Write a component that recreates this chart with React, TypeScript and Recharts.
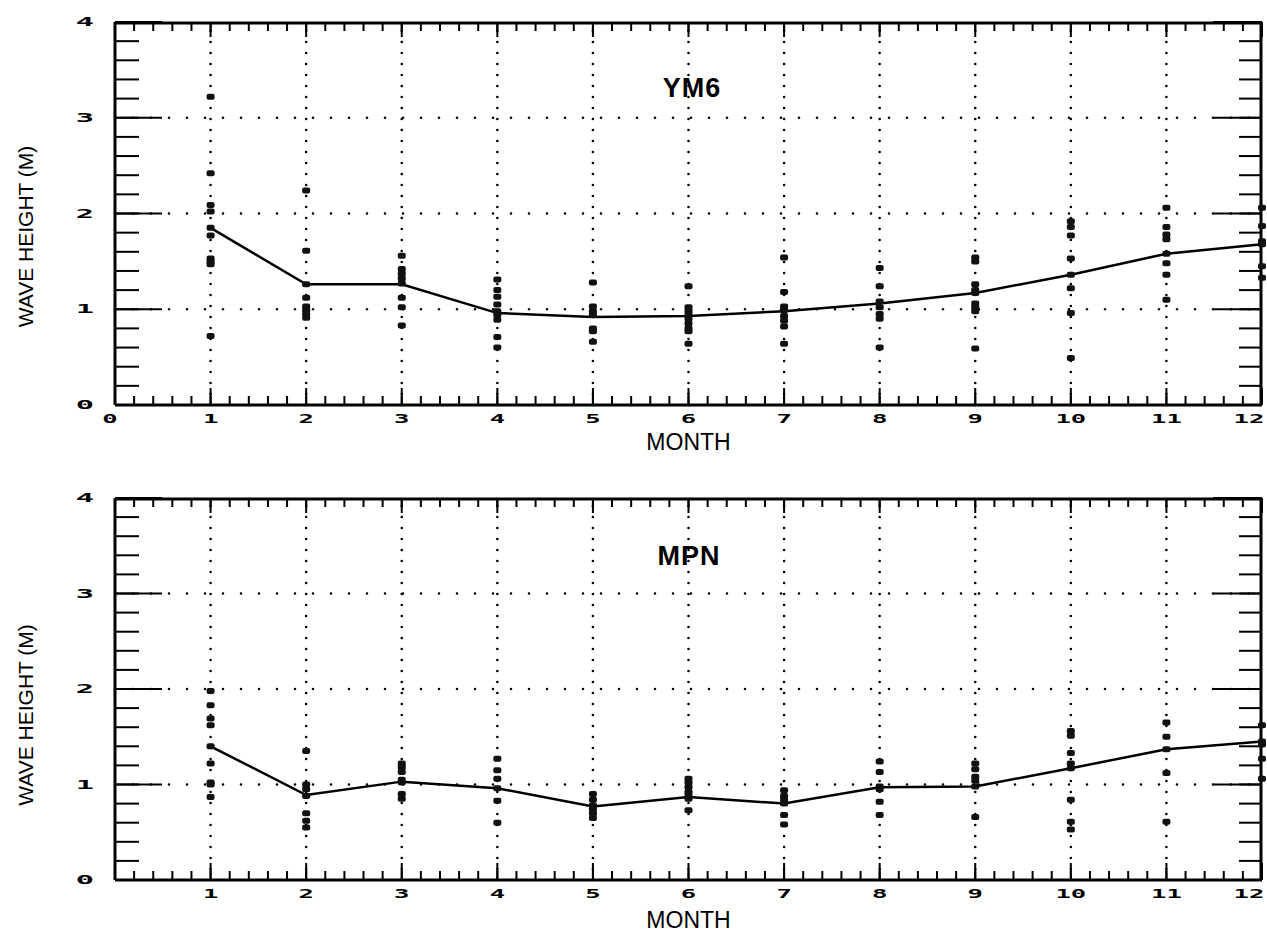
import React from 'react';
import {
  ComposedChart,
  Line,
  Scatter,
  XAxis,
  YAxis,
  ReferenceLine,
  Label,
  Customized,
} from 'recharts';

// ---------- data ----------
const months = [1, 2, 3, 4, 5, 6, 7, 8, 9, 10, 11, 12];

const ym6Mean = [1.85, 1.26, 1.26, 0.96, 0.92, 0.93, 0.98, 1.06, 1.17, 1.36, 1.58, 1.68];
const mpnMean = [1.40, 0.89, 1.03, 0.96, 0.77, 0.87, 0.80, 0.97, 0.98, 1.17, 1.37, 1.45];

const ym6Obs = [
  [3.22, 2.42, 2.09, 2.02, 1.85, 1.77, 1.53, 1.5, 1.47, 0.72],
  [2.24, 1.61, 1.26, 1.12, 1.03, 0.99, 0.95, 0.91],
  [1.56, 1.42, 1.37, 1.32, 1.27, 1.12, 1.02, 0.83],
  [1.31, 1.2, 1.13, 1.05, 0.98, 0.94, 0.89, 0.71, 0.6],
  [1.28, 1.03, 0.98, 0.94, 0.8, 0.77, 0.66],
  [1.24, 1.02, 0.98, 0.94, 0.9, 0.85, 0.8, 0.77, 0.64],
  [1.54, 1.18, 1.03, 0.99, 0.93, 0.88, 0.82, 0.64],
  [1.43, 1.24, 1.08, 1.02, 0.95, 0.9, 0.6],
  [1.54, 1.5, 1.26, 1.2, 1.17, 1.06, 1.02, 0.98, 0.59],
  [1.92, 1.86, 1.77, 1.53, 1.36, 1.22, 0.96, 0.49],
  [2.06, 1.86, 1.78, 1.73, 1.58, 1.48, 1.36, 1.1],
  [2.06, 1.87, 1.71, 1.68, 1.45, 1.33],
];

const mpnObs = [
  [1.98, 1.83, 1.69, 1.62, 1.4, 1.22, 1.02, 1.0, 0.87],
  [1.35, 1.0, 0.95, 0.88, 0.7, 0.62, 0.55],
  [1.22, 1.18, 1.13, 1.05, 1.02, 0.9, 0.85],
  [1.27, 1.15, 1.06, 0.96, 0.83, 0.6],
  [0.9, 0.84, 0.78, 0.74, 0.7, 0.65],
  [1.06, 1.02, 0.97, 0.92, 0.88, 0.85, 0.73],
  [0.94, 0.88, 0.84, 0.8, 0.68, 0.58],
  [1.24, 1.13, 0.98, 0.95, 0.82, 0.68],
  [1.22, 1.16, 1.08, 1.04, 0.98, 0.66],
  [1.56, 1.51, 1.33, 1.22, 1.17, 0.84, 0.61, 0.53],
  [1.65, 1.5, 1.37, 1.12, 0.61],
  [1.62, 1.45, 1.42, 1.27, 1.06],
];

const topXTicks = [0, 1, 2, 3, 4, 5, 6, 7, 8, 9, 10, 11, 12];
const bottomXTicks = [1, 2, 3, 4, 5, 6, 7, 8, 9, 10, 11, 12];
const majorXTicks = [0, 1, 2, 3, 4, 5, 6, 7, 8, 9, 10, 11, 12];
const yTicks = [0, 1, 2, 3, 4];
const gridX = [1, 2, 3, 4, 5, 6, 7, 8, 9, 10, 11];
const gridY = [1, 2, 3];

// axis decoration tick positions (every 0.2)
const minorX = Array.from({ length: 61 }, (_, i) => Math.round(i * 2) / 10);
const minorY = Array.from({ length: 21 }, (_, i) => Math.round(i * 2) / 10);

const FONT = '"Liberation Sans", Arial, Helvetica, sans-serif';
const DIGIT_FONT = '"DejaVu Sans Mono", monospace';

const meanRows = (mean: number[]) => months.map((m, i) => ({ month: m, value: mean[i] }));
const obsRows = (obs: number[][]) =>
  months.flatMap((m, i) => obs[i].map((v) => ({ month: m, value: v })));

const XTick = (props: any) => {
  const { x, y, payload } = props;
  const shift = payload.value === 12 ? -13 : payload.value === 0 ? -5 : 0;
  return (
    <text
      x={0}
      y={0}
      transform={`translate(${x + shift},${y + 14}) scale(1.6,0.72)`}
      textAnchor="middle"
      dominantBaseline="central"
      fontFamily={DIGIT_FONT}
      fontWeight="bold"
      fontSize={16}
      fill="#000"
    >
      {payload.value}
    </text>
  );
};

const YTick = (props: any) => {
  const { x, y, payload } = props;
  return (
    <text
      x={0}
      y={0}
      transform={`translate(${x - 30},${y}) scale(1.9,0.72)`}
      textAnchor="middle"
      dominantBaseline="central"
      fontFamily={DIGIT_FONT}
      fontWeight="bold"
      fontSize={16}
      fill="#000"
    >
      {payload.value}
    </text>
  );
};

const EmptyTick = () => <g />;

const Marker = (p: any) => (
  <rect x={p.cx - 4} y={p.cy - 3} width={8} height={6} rx={2} fill="#111" />
);

const tickLineStyle = { stroke: '#000', strokeWidth: 2 };
const borderStyle = { stroke: '#000', strokeWidth: 3 };

type PanelProps = {
  title: string;
  titleX: number;
  titleY: number;
  mean: number[];
  obs: number[][];
  xTicks: number[];
  height: number;
  marginTop: number;
  xAxisHeight: number;
  monthOffset: number;
  yLabelShift: number;
};

const Panel = (p: PanelProps) => {
  const plotTop = p.marginTop;
  const plotBottom = p.height - p.xAxisHeight;
  const yLabelY = (plotTop + plotBottom) / 2 + p.yLabelShift;
  const xDeco = (id: string, orientation: 'top' | 'bottom', ticks: number[], size: number, line: any) => (
    <XAxis
      xAxisId={id}
      orientation={orientation}
      dataKey="month"
      type="number"
      domain={[0, 12]}
      allowDataOverflow
      ticks={ticks}
      interval={0}
      mirror
      height={1}
      tick={<EmptyTick />}
      tickLine={tickLineStyle}
      tickSize={size}
      axisLine={line}
    />
  );
  const yDeco = (id: string, orientation: 'left' | 'right', ticks: number[], size: number, line: any) => (
    <YAxis
      yAxisId={id}
      orientation={orientation}
      dataKey="value"
      type="number"
      domain={[0, 4]}
      allowDataOverflow
      ticks={ticks}
      interval={0}
      mirror
      width={1}
      tick={<EmptyTick />}
      tickLine={tickLineStyle}
      tickSize={size}
      axisLine={line}
    />
  );
  return (
    <ComposedChart
      width={1267}
      height={p.height}
      data={meanRows(p.mean)}
      margin={{ top: p.marginTop, right: 5, left: 0, bottom: 0 }}
    >
      {/* main axes with labels */}
      <XAxis
        xAxisId="m"
        dataKey="month"
        type="number"
        domain={[0, 12]}
        ticks={p.xTicks}
        interval={0}
        tick={<XTick />}
        tickLine={false}
        tickSize={0}
        tickMargin={0}
        axisLine={borderStyle}
        height={p.xAxisHeight}
      >
        <Label
          value="MONTH"
          position="insideBottom"
          offset={p.monthOffset}
          fill="#000"
          fontSize={23}
          fontFamily={FONT}
        />
      </XAxis>
      <YAxis
        yAxisId="m"
        dataKey="value"
        type="number"
        domain={[0, 4]}
        ticks={yTicks}
        interval={0}
        tick={<YTick />}
        tickLine={false}
        tickSize={0}
        tickMargin={0}
        axisLine={borderStyle}
        width={115}
      />

      {/* inward tick decorations and frame */}
      {xDeco('bmin', 'bottom', minorX, 8, false)}
      {xDeco('bmaj', 'bottom', majorXTicks, 17, false)}
      {xDeco('tmin', 'top', minorX, 8, borderStyle)}
      {xDeco('tmaj', 'top', majorXTicks, 15, false)}
      {yDeco('lmin', 'left', minorY, 23, false)}
      {yDeco('lmaj', 'left', yTicks, 47, false)}
      {yDeco('rmin', 'right', minorY, 22, borderStyle)}
      {yDeco('rmaj', 'right', yTicks, 49, false)}

      {/* dotted grid */}
      {gridX.map((g) => (
        <ReferenceLine
          key={`gx${g}`}
          x={g}
          xAxisId="m"
          yAxisId="m"
          stroke="#000"
          strokeWidth={2.6}
          strokeLinecap="round"
          strokeDasharray="0 11"
        />
      ))}
      {gridY.map((g) => (
        <ReferenceLine
          key={`gy${g}`}
          y={g}
          xAxisId="m"
          yAxisId="m"
          stroke="#000"
          strokeWidth={2.6}
          strokeLinecap="round"
          strokeDasharray="0 18"
        />
      ))}

      <Scatter
        xAxisId="m"
        yAxisId="m"
        data={obsRows(p.obs)}
        shape={<Marker />}
        isAnimationActive={false}
      />
      <Line
        xAxisId="m"
        yAxisId="m"
        type="linear"
        dataKey="value"
        stroke="#000"
        strokeWidth={2.5}
        dot={false}
        activeDot={false}
        isAnimationActive={false}
      />

      <Customized
        component={() => (
          <g>
            <text
              x={p.titleX}
              y={p.titleY}
              textAnchor="middle"
              fontFamily={FONT}
              fontWeight="bold"
              fontSize={27}
              letterSpacing={1}
              fill="#000"
            >
              {p.title}
            </text>
            <text
              x={25}
              y={yLabelY}
              transform={`rotate(-90 25 ${yLabelY})`}
              textAnchor="middle"
              dominantBaseline="central"
              fontFamily={FONT}
              fontSize={21}
              fill="#000"
            >
              WAVE HEIGHT (M)
            </text>
          </g>
        )}
      />
    </ComposedChart>
  );
};

export default function App() {
  return (
    <div
      style={{
        position: 'absolute',
        left: 0,
        top: 0,
        width: 1267,
        height: 935,
        background: '#fff',
        overflow: 'hidden',
      }}
    >
      <div style={{ position: 'absolute', left: 0, top: 0 }}>
        <Panel
          title="YM6"
          titleX={692}
          titleY={97}
          mean={ym6Mean}
          obs={ym6Obs}
          xTicks={topXTicks}
          height={470}
          marginTop={22}
          xAxisHeight={65}
          monthOffset={20}
          yLabelShift={23}
        />
      </div>
      <div style={{ position: 'absolute', left: 0, top: 470 }}>
        <Panel
          title="MPN"
          titleX={689}
          titleY={95}
          mean={mpnMean}
          obs={mpnObs}
          xTicks={bottomXTicks}
          height={465}
          marginTop={28}
          xAxisHeight={55}
          monthOffset={7}
          yLabelShift={26}
        />
      </div>
    </div>
  );
}
